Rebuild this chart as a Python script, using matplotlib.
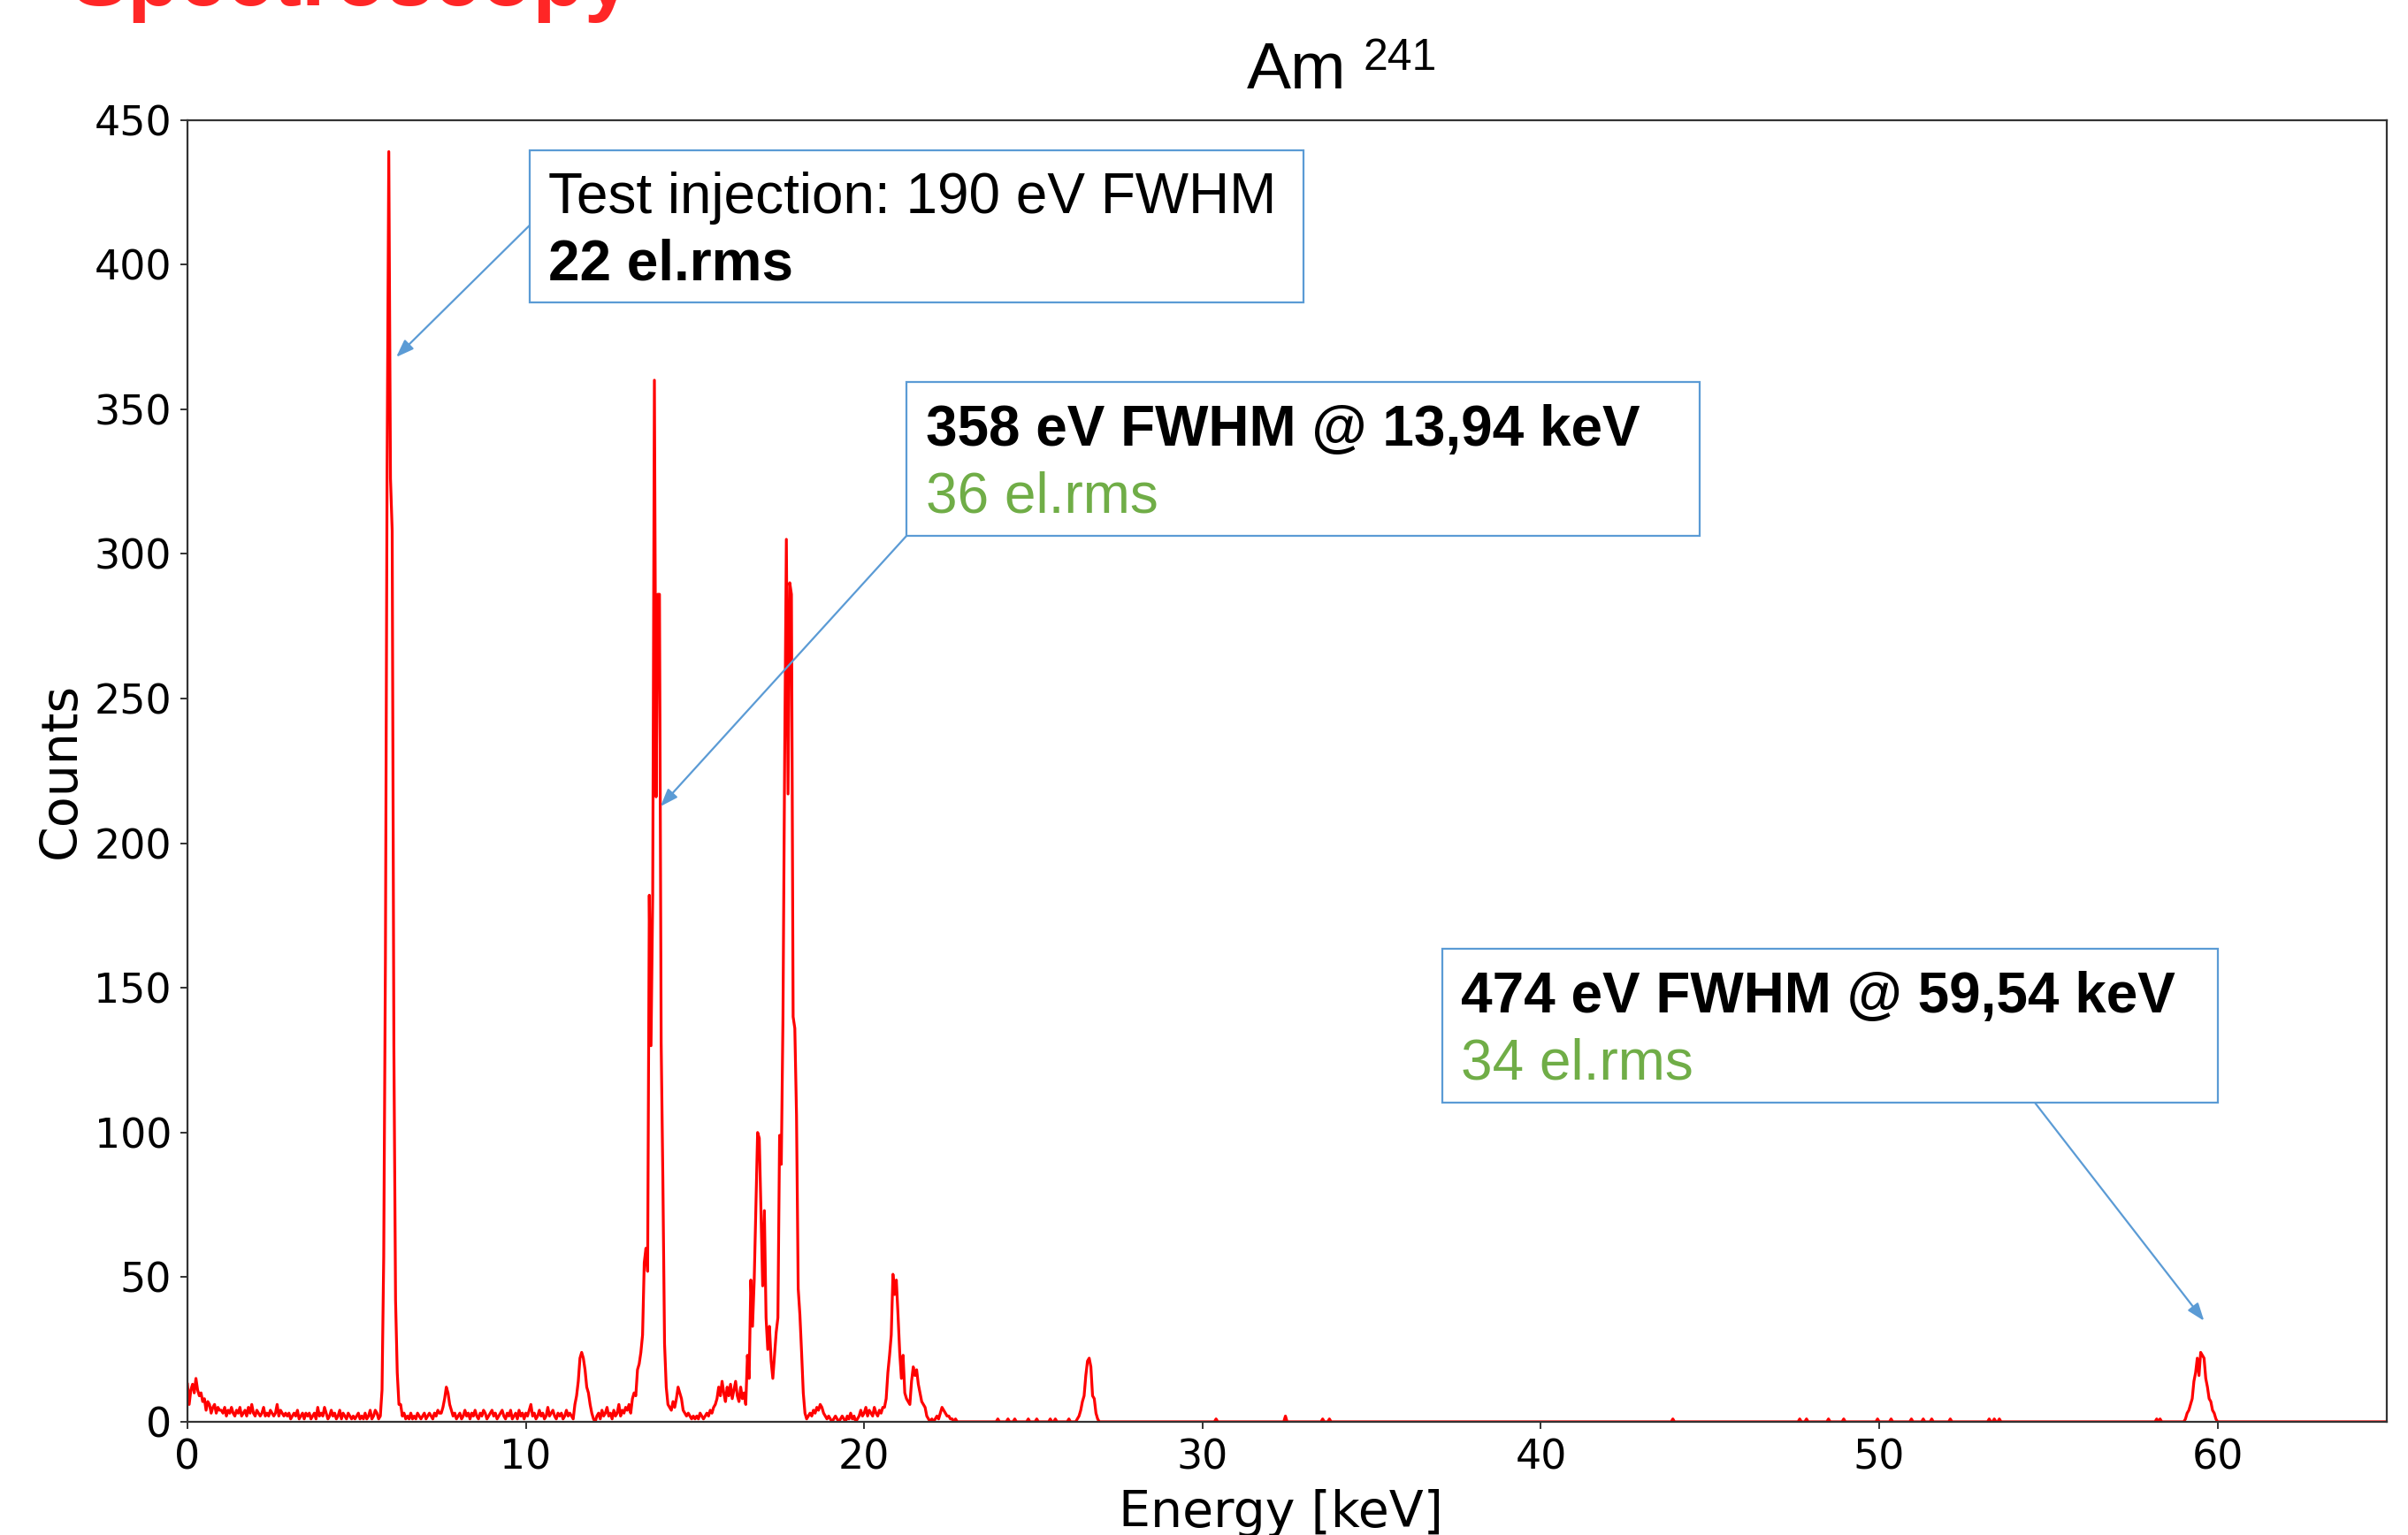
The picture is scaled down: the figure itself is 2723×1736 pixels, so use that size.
import numpy as np
import matplotlib
matplotlib.use("Agg")
import matplotlib.pyplot as plt
from matplotlib.patches import Rectangle

# ---------------- data ----------------
BIN_KEV = 0.05            # histogram bin width (keV)
E_MAX = 65.0

# Start energy (keV) of each hand-read segment of 0.05 keV bins
segment_starts = [0.00, 1.00, 2.00, 3.00, 4.00, 5.00, 6.50, 8.00, 10.00,
                  12.00, 14.25, 16.50, 18.35, 20.60, 26.30, 59.05]

counts_0_1 = [13, 6, 11, 13, 10, 15, 11, 9, 10, 7, 8, 4, 7, 6, 3, 5, 6, 3, 5, 4]
counts_1_2 = [4, 3, 5, 2, 4, 3, 5, 3, 2, 4, 3, 5, 2, 3, 4, 2, 5, 3, 6, 3]
counts_2_3 = [2, 4, 3, 2, 3, 5, 2, 3, 2, 4, 3, 2, 3, 6, 2, 4, 3, 2, 3, 2]
counts_3_4 = [3, 1, 2, 3, 2, 4, 1, 2, 3, 1, 3, 2, 3, 1, 2, 3, 1, 5, 2, 3]
counts_4_5 = [2, 5, 3, 1, 2, 4, 2, 3, 1, 2, 4, 1, 3, 2, 1, 3, 2, 1, 2, 1]
counts_5_6p5 = [2, 3, 1, 2, 1, 3, 1, 2, 4, 1, 2, 4,
                3, 1, 2, 11, 57, 160, 330, 439, 326, 308, 130, 42, 17, 6, 6, 2, 3, 1]
counts_6p5_8 = [2, 1, 3, 1, 2, 1, 3, 2, 1, 2, 3, 1, 2, 3, 2, 1, 3, 2, 4, 3,
                3, 5, 8, 12, 10, 6, 4, 2, 3, 1]
counts_8_10 = [2, 3, 1, 2, 4, 2, 3, 1, 3, 2, 4, 2, 1, 3, 2, 4, 3, 1, 2, 3,
               4, 2, 3, 1, 2, 3, 4, 2, 1, 3, 2, 4, 1, 2, 3, 1, 4, 2, 3, 1]
counts_10_12 = [3, 2, 4, 6, 2, 3, 1, 2, 4, 2, 3, 1, 2, 5, 2, 3, 4, 2, 1, 3,
                2, 3, 1, 2, 4, 2, 3, 2, 1, 6, 9, 14, 22, 24, 22, 18, 12, 10, 6, 3]
counts_12_14p25 = [1, 0, 2, 3, 1, 4, 2, 3, 5, 2, 3, 1, 4, 2, 3, 6, 2, 4, 3, 5,
                   4, 6, 3, 8, 10, 9,
                   18, 20, 24, 30, 55, 60, 52, 182, 130, 182, 360, 216, 286, 286,
                   131, 84, 27, 12, 6]
counts_14p25_16p5 = [5, 4, 7, 5, 8, 12, 10, 8, 4, 3, 2, 3, 2, 1, 2,
                     1, 2, 1, 3, 2, 1, 2, 3, 2, 4, 3, 5,
                     6, 8, 12, 9, 14, 10, 7, 12, 9, 13, 8, 11, 14, 9, 7, 12, 8, 10]
counts_16p5_18p35 = [6, 23, 15, 49, 33, 49, 74, 100, 98, 72, 47, 73, 36, 25, 33, 21,
                     15, 23, 31, 36, 99, 89, 140, 230, 305, 217, 290, 286, 140, 136,
                     106, 46, 37, 24, 10, 3, 1]
counts_18p35_20p6 = [2, 3, 2, 4, 3, 5, 4, 6, 5, 3, 2, 1, 2,
                     1, 0, 1, 2, 1, 0, 1, 2, 1, 0, 2, 1, 3, 1, 2, 0, 1, 2, 4, 2,
                     3, 5, 2, 4, 3, 2, 5, 3, 2, 4, 3, 5]
counts_20p6_23 = [5, 8, 17, 23, 30, 51, 44, 49, 37, 24, 15, 23, 10, 8, 7, 6,
                  14, 19, 16, 18, 13, 10, 7, 6, 5, 2, 1, 0, 1, 0, 1, 2, 1, 3, 5, 4,
                  3, 2, 2, 1, 1, 0, 1, 0, 0, 0, 0, 0, 0]
counts_26keV_peak = [1, 2, 4, 7, 9, 16, 21, 22, 19, 9, 8, 3, 1]
counts_59keV_peak = [1, 3, 4, 6, 8, 14, 17, 22, 16, 24, 23, 22, 15, 12, 8, 7, 4, 3, 1]

segment_counts = [counts_0_1, counts_1_2, counts_2_3, counts_3_4, counts_4_5,
                  counts_5_6p5, counts_6p5_8, counts_8_10, counts_10_12,
                  counts_12_14p25, counts_14p25_16p5, counts_16p5_18p35,
                  counts_18p35_20p6, counts_20p6_23, counts_26keV_peak,
                  counts_59keV_peak]

# isolated single events in the high-energy tail
spike_energies = [23.95, 24.25, 24.45, 24.85, 25.10, 25.50, 25.65, 26.05, 30.40,
                  32.45, 33.55, 33.75, 43.90, 47.65, 47.85, 48.50, 48.95, 49.95,
                  50.35, 50.95, 51.30, 51.55, 52.10, 53.25, 53.40, 53.55, 58.20, 58.30]
spike_counts = [1, 1, 1, 1, 1, 1, 1, 1, 1,
                2, 1, 1, 1, 1, 1, 1, 1, 1,
                1, 1, 1, 1, 1, 1, 1, 1, 1, 1]

x_ticks = [0, 10, 20, 30, 40, 50, 60]
y_ticks = [0, 50, 100, 150, 200, 250, 300, 350, 400, 450]

box_line1 = ["Test injection: 190 eV FWHM", "358 eV FWHM @ 13,94 keV", "474 eV FWHM @ 59,54 keV"]
box_line2 = ["22 el.rms", "36 el.rms", "34 el.rms"]

# ---------------- assemble histogram ----------------
n_bins = int(round(E_MAX / BIN_KEV)) + 1
energy = np.arange(n_bins) * BIN_KEV
counts = np.zeros(n_bins)
for start, vals in zip(segment_starts, segment_counts):
    i0 = int(round(start / BIN_KEV))
    counts[i0:i0 + len(vals)] = vals
for e, c in zip(spike_energies, spike_counts):
    counts[int(round(e / BIN_KEV))] = c

# ---------------- figure ----------------
W, H = 2723, 1736
fig = plt.figure(figsize=(W / 100, H / 100), dpi=100)
ax_l, ax_r, ax_t, ax_b = 212, 2699, 135.5, 1608
ax = fig.add_axes([ax_l / W, 1 - ax_b / H, (ax_r - ax_l) / W, (ax_b - ax_t) / H])

ax.plot(energy, counts, color="#FF0000", lw=2.3, zorder=2)
ax.set_xlim(0, 65)
ax.set_ylim(0, 450)
ax.set_xticks(x_ticks)
ax.set_yticks(y_ticks)
ax.tick_params(labelsize=33, length=6, width=1.4, pad=7, color="#333333")
for s in ax.spines.values():
    s.set_linewidth(1.6)
    s.set_color("#333333")

ax.set_xlabel("Energy [keV]", fontsize=41)
ax.xaxis.label.set_va("baseline")
ax.xaxis.set_label_coords(0.497, (ax_b - 1727) / (ax_b - ax_t))
ax.set_ylabel("Counts", fontsize=41)
ax.yaxis.label.set_va("center")
ax.yaxis.set_label_coords((69.5 - ax_l) / (ax_r - ax_l), 0.5)

# title "Am 241"
arial = "Liberation Sans"
fig.text(1410 / W, 1 - 100 / H, "Am", fontsize=54, family=arial, va="baseline", ha="left")
fig.text(1542 / W, 1 - 79 / H, "241", fontsize=36, family=arial, va="baseline", ha="left")

# cropped slide heading (cut off at the top edge, as in the reference)
fig.text(80 / W, 1 - 6 / H, "Spectroscopy", fontsize=69, family=arial, fontweight="bold",
         color="#FF2626", va="baseline", ha="left")

# annotation boxes (data coords)
blue = "#5B9BD5"
green = "#70AD47"
boxes = [  # x0, x1, y_bottom, y_top
    (10.11, 32.98, 386.9, 439.5),
    (21.25, 44.69, 306.2, 359.4),
    (37.09, 60.01, 110.3, 163.5),
]
text_x = [10.66, 21.82, 37.64]
base1 = [417.8, 337.4, 141.6]
base2 = [394.6, 314.2, 118.3]
line1_weight = ["normal", "bold", "bold"]
line2_weight = ["bold", "normal", "normal"]
line2_color = ["black", green, green]
for i, (x0, x1, y0, y1) in enumerate(boxes):
    ax.add_patch(Rectangle((x0, y0), x1 - x0, y1 - y0, facecolor="white",
                           edgecolor=blue, lw=1.6, zorder=4, clip_on=False))
    ax.text(text_x[i], base1[i], box_line1[i], fontsize=46, family=arial,
            fontweight=line1_weight[i], va="baseline", ha="left", zorder=5)
    ax.text(text_x[i], base2[i], box_line2[i], fontsize=46, family=arial,
            fontweight=line2_weight[i], color=line2_color[i],
            va="baseline", ha="left", zorder=5)

arrows = [  # (start, end)
    ((10.11, 413.5), (6.17, 368.0)),
    ((21.25, 306.2), (13.98, 212.7)),
    ((54.6, 110.3), (59.6, 34.9)),
]
for (sx, sy), (ex, ey) in arrows:
    ax.annotate("", xy=(ex, ey), xytext=(sx, sy),
                arrowprops=dict(arrowstyle="-|>,head_length=0.6,head_width=0.22",
                                color=blue, lw=1.6, shrinkA=0, shrinkB=0,
                                mutation_scale=20),
                zorder=6)

fig.savefig("out.png", dpi=100)
